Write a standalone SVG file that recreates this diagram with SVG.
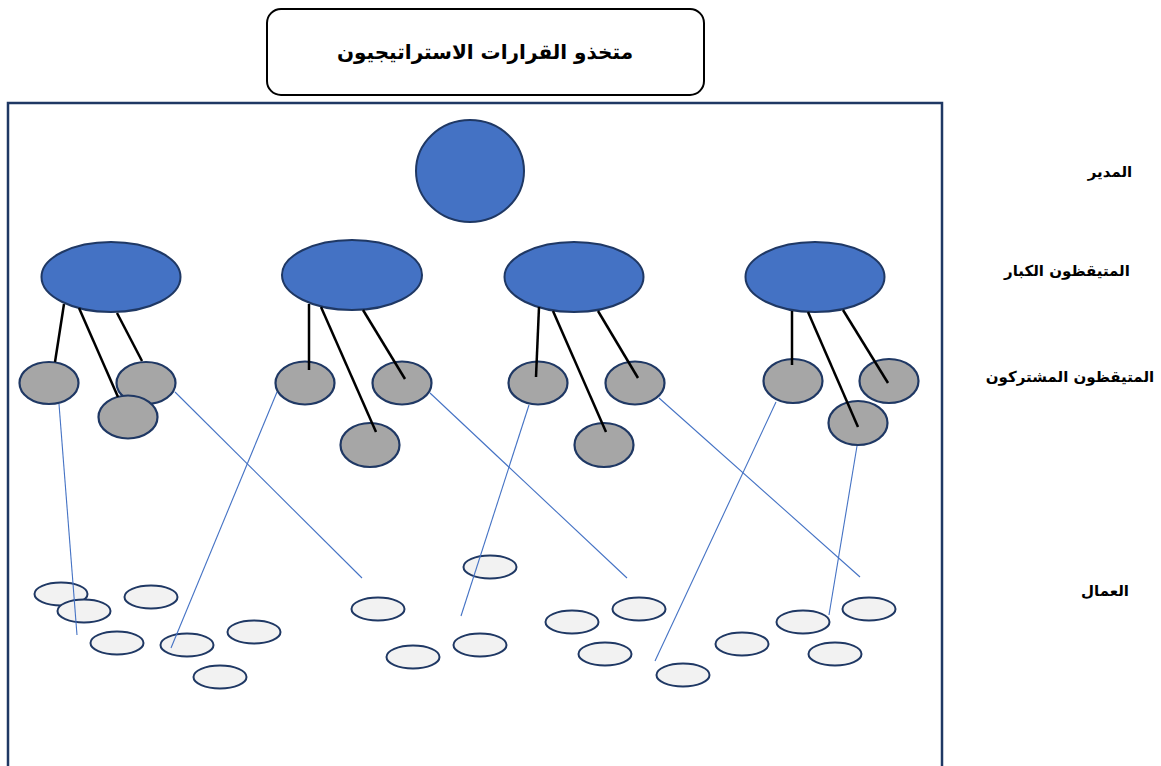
<svg xmlns="http://www.w3.org/2000/svg" width="1161" height="766" viewBox="0 0 1161 766">
  <style>
    .frame { fill: none; stroke: #1f3864; stroke-width: 2.5; }
    .title-box { fill: #ffffff; stroke: #000000; stroke-width: 2; }
    .lead { fill: #4472c4; stroke: #1f3864; stroke-width: 2; }
    .member { fill: #a6a6a6; stroke: #1f3864; stroke-width: 2.2; }
    .worker { fill: #f2f2f2; stroke: #1f3864; stroke-width: 2; }
    .tie { stroke: #000000; stroke-width: 2.5; fill: none; }
    .link { stroke: #4472c4; stroke-width: 1.1; fill: none; }
    .lbl { font-family: "DejaVu Sans", "Noto Sans", sans-serif; font-weight: bold; fill: #000000; direction: rtl; text-anchor: middle; }
  </style>
  <rect width="1161" height="766" fill="#ffffff"/>

  <!-- outer frame -->
  <rect class="frame" x="8" y="103" width="934" height="668"/>

  <!-- heading -->
  <g id="title">
    <rect class="title-box" x="267" y="9" width="437" height="86" rx="14" ry="14"/>
    <text class="lbl" x="485" y="59" font-size="20">متخذو القرارات الاستراتيجيون</text>
  </g>

  <!-- level labels -->
  <g id="label-manager"><text class="lbl" x="1110" y="177" font-size="15">المدير</text></g>
  <g id="label-senior"><text class="lbl" x="1067" y="276" font-size="15">المتيقظون الكبار</text></g>
  <g id="label-shared"><text class="lbl" x="1070" y="382" font-size="15">المتيقظون المشتركون</text></g>
  <g id="label-workers"><text class="lbl" x="1105" y="596" font-size="15">العمال</text></g>

  <!-- manager -->
  <g id="manager"><ellipse class="lead" cx="470" cy="171" rx="54" ry="51"/></g>

  <!-- senior watchers -->
  <g id="senior-1"><ellipse class="lead" cx="111" cy="277" rx="69.5" ry="35"/></g>
  <g id="senior-2"><ellipse class="lead" cx="352" cy="275" rx="70" ry="35"/></g>
  <g id="senior-3"><ellipse class="lead" cx="574" cy="277" rx="69.5" ry="35"/></g>
  <g id="senior-4"><ellipse class="lead" cx="815" cy="277" rx="69.5" ry="35"/></g>

  <!-- shared watchers -->
  <g id="shared-1a"><ellipse class="member" cx="49" cy="383" rx="29.5" ry="21"/></g>
  <g id="shared-1b"><ellipse class="member" cx="146" cy="383" rx="29.5" ry="21"/></g>
  <g id="shared-1c"><ellipse class="member" cx="128" cy="417" rx="29.5" ry="21.5"/></g>
  <g id="shared-2a"><ellipse class="member" cx="305" cy="383" rx="29.5" ry="21.5"/></g>
  <g id="shared-2b"><ellipse class="member" cx="402" cy="383" rx="29.5" ry="21.5"/></g>
  <g id="shared-2c"><ellipse class="member" cx="370" cy="445" rx="29.5" ry="22"/></g>
  <g id="shared-3a"><ellipse class="member" cx="538" cy="383" rx="29.5" ry="21.5"/></g>
  <g id="shared-3b"><ellipse class="member" cx="635" cy="383" rx="29.5" ry="21.5"/></g>
  <g id="shared-3c"><ellipse class="member" cx="604" cy="445" rx="29.5" ry="22"/></g>
  <g id="shared-4a"><ellipse class="member" cx="793" cy="381" rx="29.5" ry="22"/></g>
  <g id="shared-4b"><ellipse class="member" cx="889" cy="381" rx="29.5" ry="22"/></g>
  <g id="shared-4c"><ellipse class="member" cx="858" cy="423" rx="29.5" ry="22"/></g>

  <!-- workers -->
  <g id="worker-01"><ellipse class="worker" cx="61" cy="594" rx="26.5" ry="11.5"/></g>
  <g id="worker-02"><ellipse class="worker" cx="84" cy="611" rx="26.5" ry="11.5"/></g>
  <g id="worker-03"><ellipse class="worker" cx="151" cy="597" rx="26.5" ry="11.5"/></g>
  <g id="worker-04"><ellipse class="worker" cx="117" cy="643" rx="26.5" ry="11.5"/></g>
  <g id="worker-05"><ellipse class="worker" cx="187" cy="645" rx="26.5" ry="11.5"/></g>
  <g id="worker-06"><ellipse class="worker" cx="254" cy="632" rx="26.5" ry="11.5"/></g>
  <g id="worker-07"><ellipse class="worker" cx="220" cy="677" rx="26.5" ry="11.5"/></g>
  <g id="worker-08"><ellipse class="worker" cx="378" cy="609" rx="26.5" ry="11.5"/></g>
  <g id="worker-09"><ellipse class="worker" cx="413" cy="657" rx="26.5" ry="11.5"/></g>
  <g id="worker-10"><ellipse class="worker" cx="490" cy="567" rx="26.5" ry="11.5"/></g>
  <g id="worker-11"><ellipse class="worker" cx="480" cy="645" rx="26.5" ry="11.5"/></g>
  <g id="worker-12"><ellipse class="worker" cx="572" cy="622" rx="26.5" ry="11.5"/></g>
  <g id="worker-13"><ellipse class="worker" cx="639" cy="609" rx="26.5" ry="11.5"/></g>
  <g id="worker-14"><ellipse class="worker" cx="605" cy="654" rx="26.5" ry="11.5"/></g>
  <g id="worker-15"><ellipse class="worker" cx="683" cy="675" rx="26.5" ry="11.5"/></g>
  <g id="worker-16"><ellipse class="worker" cx="742" cy="644" rx="26.5" ry="11.5"/></g>
  <g id="worker-17"><ellipse class="worker" cx="803" cy="622" rx="26.5" ry="11.5"/></g>
  <g id="worker-18"><ellipse class="worker" cx="869" cy="609" rx="26.5" ry="11.5"/></g>
  <g id="worker-19"><ellipse class="worker" cx="835" cy="654" rx="26.5" ry="11.5"/></g>

  <!-- connectors -->
  <g id="connectors">
    <!-- senior to shared -->
    <line class="tie" x1="64" y1="304" x2="55" y2="362"/>
    <line class="tie" x1="79" y1="308" x2="118" y2="397"/>
    <line class="tie" x1="117" y1="313" x2="142" y2="361"/>
    <line class="tie" x1="309" y1="304" x2="309" y2="370"/>
    <line class="tie" x1="321" y1="307" x2="376" y2="432"/>
    <line class="tie" x1="363" y1="310" x2="405" y2="379"/>
    <line class="tie" x1="539" y1="307" x2="536" y2="377"/>
    <line class="tie" x1="553" y1="311" x2="606" y2="432"/>
    <line class="tie" x1="598" y1="311" x2="638" y2="378"/>
    <line class="tie" x1="792" y1="311" x2="792" y2="365"/>
    <line class="tie" x1="808" y1="312" x2="858" y2="427"/>
    <line class="tie" x1="843" y1="310" x2="888" y2="383"/>
    <!-- shared to workers -->
    <line class="link" x1="59" y1="404" x2="77" y2="635"/>
    <line class="link" x1="175" y1="392" x2="362" y2="578"/>
    <line class="link" x1="277" y1="392" x2="171" y2="648"/>
    <line class="link" x1="430" y1="393" x2="627" y2="578"/>
    <line class="link" x1="529" y1="405" x2="461" y2="616"/>
    <line class="link" x1="659" y1="398" x2="860" y2="577"/>
    <line class="link" x1="776" y1="402" x2="655" y2="661"/>
    <line class="link" x1="857" y1="446" x2="829" y2="615"/>
  </g>
</svg>
